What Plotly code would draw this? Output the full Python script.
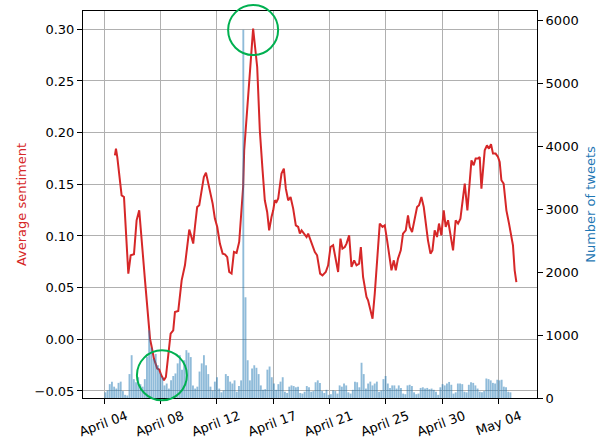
import plotly.graph_objects as go

# ---------------- data ----------------
tick_labels = ["April 04", "April 08", "April 12", "April 17",
               "April 21", "April 25", "April 30", "May 04"]
tick_days = [0, 30 / 7, 60 / 7, 90 / 7, 120 / 7, 150 / 7, 180 / 7, 30]

# rolling average sentiment (day offset from April 04, value)
line_day = [0.81, 0.89, 0.99, 1.32, 1.50, 1.83, 2.01, 2.26, 2.46, 2.66,
            3.10, 3.35, 3.48, 3.61, 3.78, 4.03, 4.18, 4.34, 4.54, 4.69,
            4.87, 5.05, 5.25, 5.38, 5.63, 5.76, 5.89, 6.14, 6.31, 6.47,
            6.60, 6.77, 6.90, 7.07, 7.23, 7.41, 7.58, 7.74, 7.91, 8.04,
            8.25, 8.42, 8.60, 8.80, 9.01, 9.18, 9.36, 9.51, 9.69, 9.87,
            10.07, 10.27, 10.45, 10.57, 10.65, 11.03, 11.33, 11.64, 11.84, 12.05,
            12.22, 12.40, 12.55, 12.73, 12.86, 12.98, 13.11, 13.24, 13.36, 13.49,
            13.67, 13.82, 14.00, 14.18, 14.38, 14.58, 14.76, 14.89, 15.02, 15.19,
            15.40, 15.52, 15.78, 16.03, 16.20, 16.43, 16.61, 16.86, 17.04, 17.22,
            17.42, 17.55, 17.80, 17.98, 18.13, 18.31, 18.44, 18.64, 18.82, 19.02,
            19.20, 19.40, 19.53, 19.70, 19.96, 20.08, 20.26, 20.42, 20.59, 20.77,
            20.97, 21.18, 21.35, 21.53, 21.68, 21.86, 22.04, 22.19, 22.36, 22.57,
            22.74, 22.95, 23.12, 23.25, 23.43, 23.63, 23.81, 23.96, 24.14, 24.32,
            24.47, 24.64, 24.83, 24.98, 25.15, 25.33, 25.48, 25.66, 25.84, 25.99,
            26.17, 26.35, 26.55, 26.75, 26.93, 27.11, 27.26, 27.44, 27.64, 27.82,
            27.95, 28.12, 28.27, 28.45, 28.58, 28.71, 28.83, 28.96, 29.13, 29.28,
            29.44, 29.59, 29.79, 29.97, 30.10, 30.23, 30.40, 30.61, 30.81, 30.99,
            31.11, 31.24, 31.37]
line_sentiment = [0.178, 0.1845, 0.1764, 0.1393, 0.1377, 0.0636, 0.0813, 0.0823, 0.1151, 0.1248,
                  0.0571, 0.0184, 0.0007, -0.0075, -0.0187, -0.0284, -0.0293, -0.0348, -0.0397, -0.0365,
                  -0.0171, 0.0055, 0.0087, 0.0264, 0.0274, 0.0442, 0.0571, 0.0716, 0.0926, 0.1062,
                  0.1006, 0.0926, 0.1087, 0.1280, 0.1297, 0.1442, 0.1571, 0.1613, 0.1507, 0.1458,
                  0.1313, 0.1168, 0.1087, 0.0926, 0.0829, 0.0823, 0.0796, 0.0651, 0.0636, 0.0845,
                  0.0835, 0.0942, 0.1216, 0.1474, 0.1829, 0.2538, 0.3007, 0.2635, 0.2022, 0.1635,
                  0.1345, 0.1232, 0.1055, 0.1183, 0.1248, 0.1345, 0.1329, 0.1362, 0.1474, 0.1603,
                  0.1652, 0.1458, 0.1345, 0.1377, 0.1265, 0.1103, 0.1087, 0.1023, 0.1055, 0.1023,
                  0.0990, 0.1023, 0.0940, 0.0845, 0.0813, 0.0636, 0.0619, 0.0651, 0.0716, 0.0893,
                  0.0910, 0.0813, 0.0651, 0.0974, 0.0878, 0.0893, 0.0926, 0.1006, 0.0700, 0.0764,
                  0.0716, 0.0733, 0.0893, 0.0603, 0.0409, 0.0377, 0.0281, 0.0200, 0.0442, 0.0764,
                  0.1120, 0.1087, 0.1103, 0.0958, 0.0829, 0.0668, 0.0764, 0.0668, 0.0781, 0.0861,
                  0.1023, 0.1055, 0.1200, 0.1087, 0.1038, 0.1152, 0.1280, 0.1297, 0.1377, 0.1280,
                  0.1103, 0.0958, 0.0829, 0.0861, 0.1055, 0.0990, 0.1120, 0.1006, 0.1248, 0.1087,
                  0.1152, 0.0990, 0.0861, 0.1152, 0.1120, 0.1168, 0.1313, 0.1507, 0.1248, 0.1539,
                  0.1732, 0.1684, 0.1749, 0.1749, 0.1764, 0.1458, 0.1635, 0.1829, 0.1877, 0.1845,
                  0.1887, 0.1797, 0.1797, 0.1764, 0.1716, 0.1539, 0.1507, 0.1248, 0.1120, 0.0990,
                  0.0910, 0.0668, 0.0554]

# tweets per 4-hour bin, starting April 04 00:00 (six bins per day)
tweets = [
    90, 120, 220, 260, 180, 150,        # Apr 04
    240, 260, 110, 50, 40, 380,         # Apr 05
    680, 300, 250, 330, 220, 180,       # Apr 06
    300, 650, 1075, 800, 620, 700,      # Apr 07
    520, 400, 330, 200, 230, 150,       # Apr 08
    280, 350, 390, 550, 680, 450,       # Apr 09
    600, 760, 720, 650, 200, 150,       # Apr 10
    180, 420, 550, 680, 520, 380,       # Apr 11
    180, 120, 260, 330, 150, 90,        # Apr 12
    120, 380, 350, 260, 230, 280,       # Apr 13
    100, 190, 280, 5850, 1600, 600,     # Apr 14
    280, 470, 520, 480, 380, 200,       # Apr 15
    130, 140, 450, 500, 330, 230,       # Apr 16
    130, 220, 260, 330, 100, 80,        # Apr 17
    180, 200, 190, 170, 180, 80,        # Apr 18
    70, 100, 190, 170, 100, 110,        # Apr 19
    250, 280, 240, 110, 80, 130,        # Apr 20
    50, 60, 120, 110, 70, 200,          # Apr 21
    180, 230, 200, 90, 70, 130,         # Apr 22
    260, 250, 170, 560, 380, 150,       # Apr 23
    230, 260, 200, 230, 260, 100,       # Apr 24
    120, 300, 350, 230, 160, 200,       # Apr 25
    200, 150, 200, 160, 70, 60,         # Apr 26
    200, 210, 190, 90, 60, 70,          # Apr 27
    160, 170, 150, 160, 140, 150,       # Apr 28
    130, 100, 50, 170, 220, 200,        # Apr 29
    230, 255, 210, 70, 90, 230,         # Apr 30
    230, 220, 100, 90, 210, 250,        # May 01
    240, 200, 150, 100, 90, 110,        # May 02
    310, 300, 280, 240, 230, 290,       # May 03
    280, 290, 180, 170, 100, 90,        # May 04
]
bin_width_days = 1 / 6
bar_day = [(i + 0.5) * bin_width_days for i in range(len(tweets))]

x_range = [-1.62, 32.94]
y_range = [-0.0568, 0.3177]
y2_range = [0, 6148]

FONT = "DejaVu Sans"
RED = "#d62728"
BLUE = "#1f77b4"
GRID = "#b0b0b0"

fig = go.Figure()
fig.add_trace(go.Scatter(x=line_day, y=line_sentiment, mode="lines",
                         line=dict(color=RED, width=2), yaxis="y",
                         showlegend=False))
fig.add_trace(go.Bar(x=bar_day, y=tweets, yaxis="y2",
                     marker=dict(color="rgba(31,119,180,0.5)", line=dict(width=0)),
                     showlegend=False))

fig.update_layout(
    width=600, height=439,
    margin=dict(l=83, r=63, t=11, b=41),
    paper_bgcolor="white", plot_bgcolor="white",
    font=dict(family=FONT, size=13, color="black"),
    bargap=0.15,
    xaxis=dict(range=x_range, tickvals=tick_days, ticktext=tick_labels,
               tickangle=-20, ticks="outside", ticklen=5, tickcolor="black",
               showline=True, linecolor="black", linewidth=1, mirror=True,
               showgrid=True, gridcolor=GRID, gridwidth=1, zeroline=False,
               ticklabelshift=22, automargin=False),
    yaxis=dict(range=y_range, tickvals=[-0.05, 0, 0.05, 0.10, 0.15, 0.20, 0.25, 0.30],
               tickformat=".2f", ticks="outside", ticklen=5, tickcolor="black",
               showline=True, linecolor="black", linewidth=1, mirror=True,
               showgrid=True, gridcolor=GRID, gridwidth=1, zeroline=False,
               automargin=False,
               title=dict(text="Average sentiment", font=dict(color=RED, size=13),
                          standoff=5)),
    yaxis2=dict(range=y2_range, overlaying="y", side="right",
                tickvals=[0, 1000, 2000, 3000, 4000, 5000, 6000], tickformat="d",
                ticks="outside", ticklen=5, tickcolor="black",
                showline=True, linecolor="black", linewidth=1,
                showgrid=False, zeroline=False, automargin=False,
                title=dict(text="Number of tweets", font=dict(color=BLUE, size=13),
                           standoff=8)),
)

# green circles highlighting the sentiment peak and trough
i_max = max(range(len(line_sentiment)), key=lambda i: line_sentiment[i])
i_min = min(range(len(line_sentiment)), key=lambda i: line_sentiment[i])


def to_paper(day, val):
    return ((day - x_range[0]) / (x_range[1] - x_range[0]),
            (val - y_range[0]) / (y_range[1] - y_range[0]))


for idx, (dx0, dx1, dy0, dy1) in [(i_max, (-25, 25, -26.5, 23.5)),
                                  (i_min, (-27, 23, -20, 30))]:
    px, py = to_paper(line_day[idx], line_sentiment[idx])
    fig.add_shape(type="circle", xref="paper", yref="paper",
                  xsizemode="pixel", ysizemode="pixel",
                  xanchor=px, yanchor=py, x0=dx0, x1=dx1, y0=dy0, y1=dy1,
                  line=dict(color="#00b050", width=2),
                  fillcolor="rgba(0,0,0,0)", layer="above")

fig.write_html("out.html",
               config={"displayModeBar": False},
               post_script="document.body.style.margin='0';"
                           "document.body.style.overflow='hidden';")
